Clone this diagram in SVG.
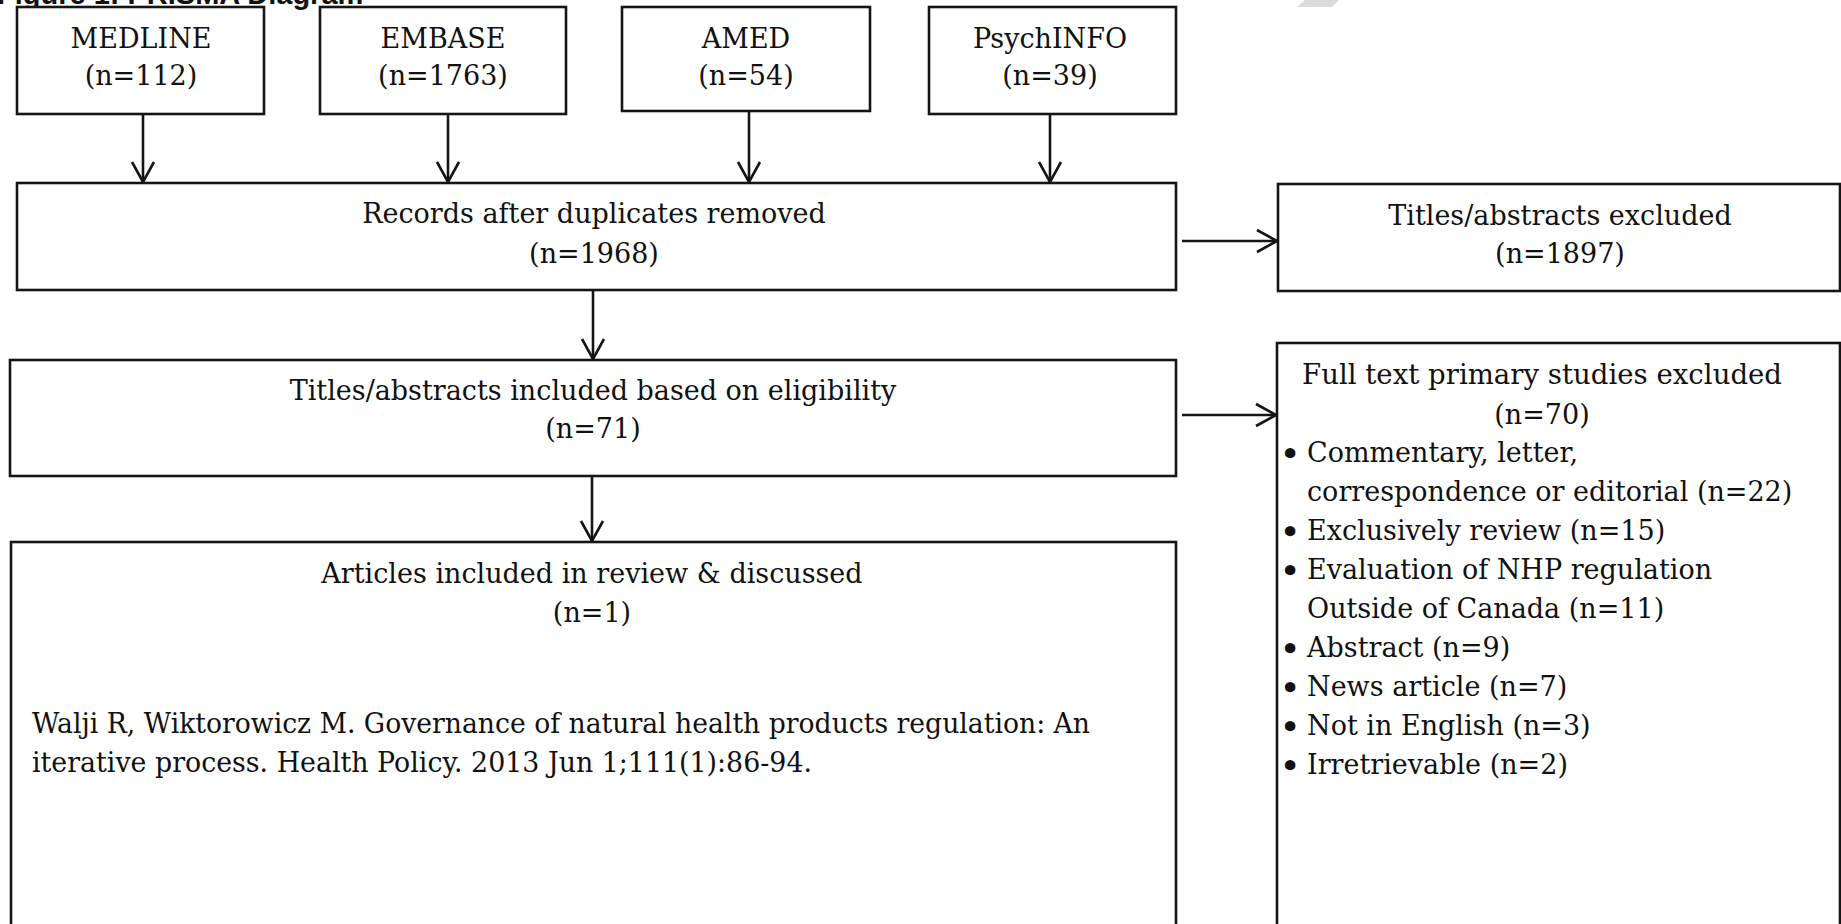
<svg xmlns="http://www.w3.org/2000/svg" width="1841" height="924" viewBox="0 0 1841 924">
<style>
.box{fill:#fff;stroke:#151515;stroke-width:2.6}
.t{font-family:"DejaVu Serif","Liberation Serif",serif;font-size:27px;fill:#111}
.c{text-anchor:middle}
.b{font-family:"DejaVu Serif","Liberation Serif",serif;font-size:36px;fill:#111;text-anchor:middle}
.edge{stroke:#151515;stroke-width:2.6;fill:none}
.title{font-family:"Liberation Sans",Arial,sans-serif;font-weight:bold;font-size:29px;fill:#111}
</style>
<defs>
<marker id="arr" markerUnits="userSpaceOnUse" viewBox="-22 -13 24 26" refX="0" refY="0" markerWidth="24" markerHeight="26" orient="auto">
<path d="M-20,-11 L0,0 L-20,11" fill="none" stroke="#151515" stroke-width="2.6"/>
</marker>
</defs>
<rect width="1841" height="924" fill="#fff"/>
<polygon points="1305,0 1339,0 1332,7 1297,7" fill="#dcdcdc"/>
<text class="title" x="-3" y="4">Figure 1: PRISMA Diagram</text>

<g id="medline">
<rect class="box" x="17" y="7" width="247" height="107"/>
<text class="t c" x="141" y="48">MEDLINE</text>
<text class="t c" x="141" y="85">(n=112)</text>
</g>
<g id="embase">
<rect class="box" x="320" y="7" width="246" height="107"/>
<text class="t c" x="443" y="48">EMBASE</text>
<text class="t c" x="443" y="85">(n=1763)</text>
</g>
<g id="amed">
<rect class="box" x="622" y="7" width="248" height="104"/>
<text class="t c" x="746" y="48">AMED</text>
<text class="t c" x="746" y="85">(n=54)</text>
</g>
<g id="psychinfo">
<rect class="box" x="929" y="7" width="247" height="107"/>
<text class="t c" x="1050" y="48">PsychINFO</text>
<text class="t c" x="1050" y="85">(n=39)</text>
</g>

<g id="records">
<rect class="box" x="17" y="183" width="1159" height="107"/>
<text class="t c" x="594" y="223">Records after duplicates removed</text>
<text class="t c" x="594" y="263">(n=1968)</text>
</g>
<g id="titles-excluded">
<rect class="box" x="1278" y="184" width="562" height="107"/>
<text class="t c" x="1560" y="225">Titles/abstracts excluded</text>
<text class="t c" x="1560" y="263">(n=1897)</text>
</g>
<g id="titles-included">
<rect class="box" x="10" y="360" width="1166" height="116"/>
<text class="t c" x="593" y="400">Titles/abstracts included based on eligibility</text>
<text class="t c" x="593" y="438">(n=71)</text>
</g>
<g id="fulltext-excluded">
<rect class="box" x="1277" y="343" width="563" height="600"/>
<text class="t c" x="1542" y="384" textLength="480" lengthAdjust="spacingAndGlyphs">Full text primary studies excluded</text>
<text class="t c" x="1542" y="424">(n=70)</text>
<text class="b" x="1290" y="466">•</text>
<text class="t" x="1307" y="462">Commentary, letter,</text>
<text class="t" x="1307" y="501">correspondence or editorial (n=22)</text>
<text class="b" x="1290" y="544">•</text>
<text class="t" x="1307" y="540">Exclusively review (n=15)</text>
<text class="b" x="1290" y="583">•</text>
<text class="t" x="1307" y="579">Evaluation of NHP regulation</text>
<text class="t" x="1307" y="618">Outside of Canada (n=11)</text>
<text class="b" x="1290" y="661">•</text>
<text class="t" x="1307" y="657">Abstract (n=9)</text>
<text class="b" x="1290" y="700">•</text>
<text class="t" x="1307" y="696">News article (n=7)</text>
<text class="b" x="1290" y="739">•</text>
<text class="t" x="1307" y="735">Not in English (n=3)</text>
<text class="b" x="1290" y="778">•</text>
<text class="t" x="1307" y="774">Irretrievable (n=2)</text>
</g>
<g id="articles-included">
<rect class="box" x="11" y="542" width="1165" height="400"/>
<text class="t c" x="592" y="583">Articles included in review &amp; discussed</text>
<text class="t c" x="592" y="622">(n=1)</text>
<text class="t" x="32" y="733" textLength="1058" lengthAdjust="spacingAndGlyphs">Walji R, Wiktorowicz M. Governance of natural health products regulation: An</text>
<text class="t" x="32" y="772" textLength="780" lengthAdjust="spacingAndGlyphs">iterative process. Health Policy. 2013 Jun 1;111(1):86-94.</text>
</g>

<g id="connectors">
<line class="edge" x1="143" y1="114" x2="143" y2="182" marker-end="url(#arr)"/>
<line class="edge" x1="448" y1="114" x2="448" y2="182" marker-end="url(#arr)"/>
<line class="edge" x1="749" y1="111" x2="749" y2="182" marker-end="url(#arr)"/>
<line class="edge" x1="1050" y1="114" x2="1050" y2="182" marker-end="url(#arr)"/>
<line class="edge" x1="593" y1="290" x2="593" y2="359" marker-end="url(#arr)"/>
<line class="edge" x1="592" y1="476" x2="592" y2="541" marker-end="url(#arr)"/>
<line class="edge" x1="1182" y1="241" x2="1277" y2="241" marker-end="url(#arr)"/>
<line class="edge" x1="1182" y1="415" x2="1276" y2="415" marker-end="url(#arr)"/>
</g>
</svg>
